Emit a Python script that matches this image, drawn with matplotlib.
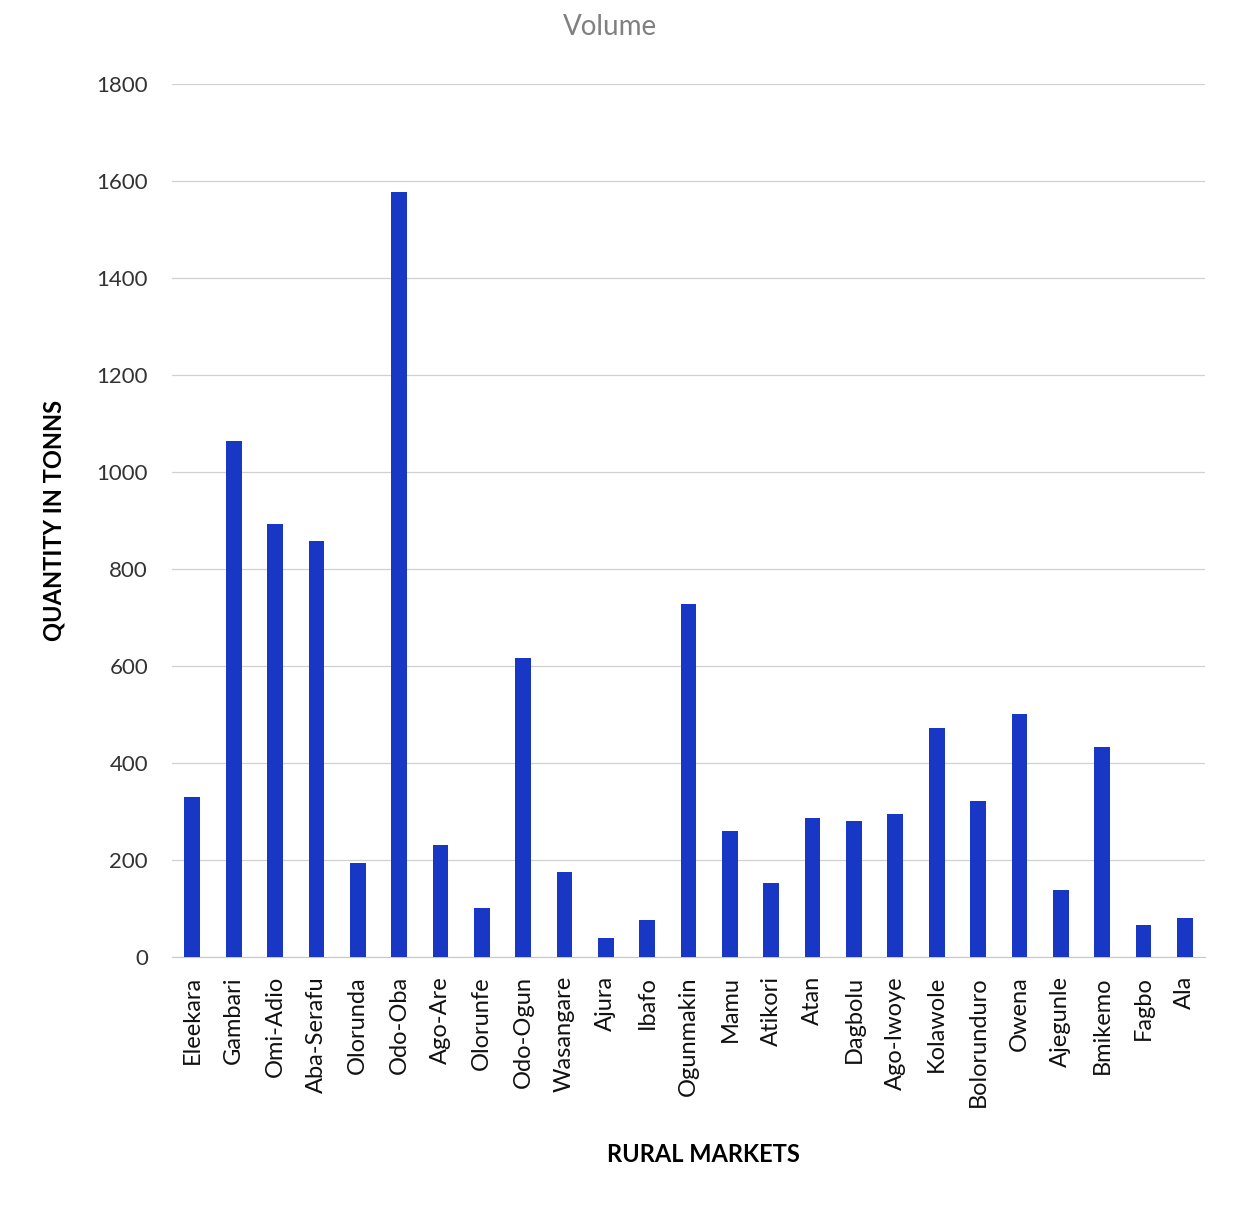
import matplotlib.pyplot as plt

markets = ['Eleekara', 'Gambari', 'Omi-Adio', 'Aba-Serafu', 'Olorunda', 'Odo-Oba',
           'Ago-Are', 'Olorunfe', 'Odo-Ogun', 'Wasangare', 'Ajura', 'Ibafo',
           'Ogunmakin', 'Mamu', 'Atikori', 'Atan', 'Dagbolu', 'Ago-Iwoye',
           'Kolawole', 'Bolorunduro', 'Owena', 'Ajegunle', 'Bmikemo', 'Fagbo', 'Ala']
volume = [330, 1064, 893, 858, 194, 1577,
          230, 100, 616, 174, 38, 76,
          727, 259, 152, 287, 281, 295,
          473, 321, 501, 138, 432, 66, 80]
yticks = [0, 200, 400, 600, 800, 1000, 1200, 1400, 1600, 1800]

plt.rcParams['font.family'] = ['Lato', 'DejaVu Sans']

fig = plt.figure(figsize=(12.44, 12.05), dpi=100)
ax = fig.add_axes([0.138, 0.206, 0.831, 0.724])

x = list(range(len(markets)))
ax.bar(x, volume, width=0.38, color='#1737c4', zorder=3)

ax.set_xlim(-0.5, len(markets) - 0.5)
ax.set_ylim(0, 1800)
ax.set_yticks(yticks)
ax.set_yticklabels([str(v) for v in yticks], fontsize=16, color='#333333')
ax.set_xticks(x)
ax.set_xticklabels(markets, rotation=90, fontsize=17, color='#111111')
ax.tick_params(axis='y', length=0, pad=17)
ax.tick_params(axis='x', length=0, pad=14)
ax.grid(axis='y', color='#d0d0d0', linewidth=0.9, zorder=0)
for s in ['top', 'right', 'left']:
    ax.spines[s].set_visible(False)
ax.spines['bottom'].set_color('#c8c8c8')

fig.text(610 / 1244, 1 - 27 / 1205, 'Volume', fontsize=20, color='#808080',
         ha='center', va='center')
ax.set_ylabel('QUANTITY IN TONNS', fontsize=17, fontweight='bold', labelpad=22)
fig.text(703 / 1244, 1 - 1155 / 1205, 'RURAL MARKETS', fontsize=17,
         fontweight='bold', ha='center', va='center')

fig.savefig('out.png', dpi=100)
